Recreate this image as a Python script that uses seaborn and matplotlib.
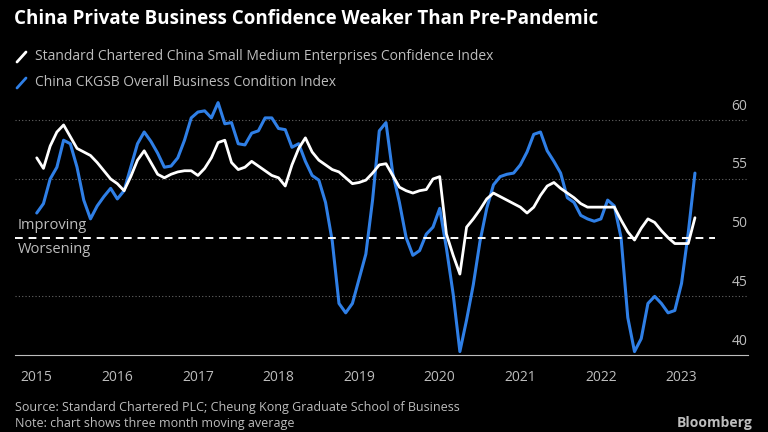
import numpy as np
import pandas as pd
import matplotlib
matplotlib.use("Agg")
import matplotlib.pyplot as plt
import matplotlib.transforms as mtransforms
from matplotlib.lines import Line2D
import seaborn as sns

# Standard Chartered SME Confidence Index, monthly Jan 2015 - Mar 2023
sc_index = [
    56.8, 55.9, 57.8, 59.0, 59.6, 58.6, 57.6, 57.3, 57.0, 56.4, 55.7, 55.0,
    54.6, 54.0, 55.2, 56.6, 57.4, 56.4, 55.4, 55.1, 55.4, 55.6, 55.7, 55.7,
    55.3, 55.9, 56.8, 58.1, 58.3, 56.4, 55.8, 56.0, 56.5, 56.1, 55.7, 55.3,
    55.1, 54.4, 56.2, 57.6, 58.5, 57.3, 56.6, 56.2, 55.8, 55.6, 55.1, 54.6,
    54.7, 54.9, 55.5, 56.2, 56.3, 55.3, 54.3, 54.0, 53.8, 54.0, 54.1, 55.0,
    55.2, 50.3, 48.5, 46.9, 50.9, 51.6, 52.4, 53.3, 53.8, 53.5, 53.2, 52.9,
    52.6, 52.1, 52.6, 53.6, 54.4, 54.7, 54.2, 53.8, 53.4, 52.9, 52.6, 52.6,
    52.6, 52.6, 52.6, 51.5, 50.5, 49.8, 50.8, 51.6, 51.3, 50.6, 50.0, 49.5,
    49.5, 49.5, 51.7,
]
# CKGSB Business Condition Index
ckgsb_index = [
    52.1, 52.9, 55.0, 56.0, 58.3, 58.0, 56.0, 53.2, 51.6, 52.7, 53.5, 54.2,
    53.3, 54.0, 56.0, 58.0, 59.0, 58.2, 57.2, 56.0, 56.1, 56.8, 58.3, 60.2,
    60.7, 60.8, 60.2, 61.5, 59.7, 59.8, 58.0, 57.9, 58.9, 59.1, 60.2, 60.2,
    59.3, 59.2, 57.7, 58.0, 56.5, 55.3, 54.9, 53.0, 49.7, 44.4, 43.6, 44.4,
    46.5, 48.6, 53.2, 59.1, 59.8, 55.5, 53.0, 50.0, 48.5, 48.9, 50.3, 50.9,
    52.5, 49.1, 45.2, 40.3, 43.0, 46.0, 49.7, 52.5, 54.5, 55.2, 55.4, 55.5,
    56.2, 57.3, 58.8, 59.0, 57.4, 56.5, 55.5, 53.4, 53.0, 51.9, 51.6, 51.4,
    51.6, 53.2, 52.7, 50.0, 43.2, 40.3, 41.4, 44.4, 45.0, 44.4, 43.6, 43.8,
    46.1, 50.4, 55.5,
]
years = list(range(2015, 2024))
y_ticks = [40, 45, 50, 55, 60]

t = 2015 + np.arange(len(sc_index)) / 12
df = pd.DataFrame({"t": t, "sc": sc_index, "ckgsb": ckgsb_index})

sns.set_style("dark")
plt.rcParams['font.family'] = ['Open Sans', 'DejaVu Sans']
grey = "#bdbdbd"
blue = "#2f7fe6"

fig = plt.figure(figsize=(7.68, 4.32), dpi=100, facecolor="black")
ax = fig.add_axes([0.0195, 0.178, 0.955, 0.598], facecolor="black")

sns.lineplot(data=df, x="t", y="ckgsb", ax=ax, color=blue, linewidth=2.2)
sns.lineplot(data=df, x="t", y="sc", ax=ax, color="white", linewidth=2)
ax.axhline(50, color="white", linestyle=(0, (4, 3)), linewidth=1.4, xmax=0.955)

ax.set_xlim(2014.73, 2023.83)
ax.set_ylim(40, 62)
ax.set_xlabel("")
ax.set_ylabel("")
ax.set_xticks(years)
ax.set_xticklabels([str(y) for y in years], color=grey, fontsize=10)
ax.set_yticks(y_ticks)
ax.set_yticklabels([str(v) for v in y_ticks], color=grey, fontsize=10)
ax.yaxis.tick_right()
ax.tick_params(axis="y", length=0, pad=-8)
ax.tick_params(axis="x", length=5, color=grey, direction="out", pad=6)
off = mtransforms.ScaledTranslation(0.1, 0.16, fig.dpi_scale_trans)
for lab in ax.get_yticklabels():
    lab.set_transform(lab.get_transform() + off)
    lab.set_horizontalalignment("right")

for v in [45, 55, 60]:
    ax.axhline(v, color="#666666", linestyle=(0, (1, 2)), linewidth=0.8, zorder=0)
ax.grid(False)
for s in ["top", "left", "right"]:
    ax.spines[s].set_visible(False)
ax.spines["bottom"].set_color(grey)

ax.text(2014.76, 50.4, "Improving", color=grey, fontsize=10.5, va="bottom")
ax.text(2014.76, 49.6, "Worsening", color=grey, fontsize=10.5, va="top")

fig.text(0.018, 0.955, "China Private Business Confidence Weaker Than Pre-Pandemic",
         color="white", fontsize=13.5, fontweight="bold", va="center")
fig.add_artist(Line2D([17/768, 26/768], [1-62/432, 1-52/432], color="white", linewidth=2))
fig.add_artist(Line2D([17/768, 26/768], [1-88/432, 1-78/432], color=blue, linewidth=2))
fig.text(0.045, 1-57/432, "Standard Chartered China Small Medium Enterprises Confidence Index",
         color=grey, fontsize=10, va="center")
fig.text(0.045, 1-83/432, "China CKGSB Overall Business Condition Index",
         color=grey, fontsize=10, va="center")
fig.text(0.02, 1-408/432, "Source: Standard Chartered PLC; Cheung Kong Graduate School of Business",
         color=grey, fontsize=9, va="center")
fig.text(0.02, 1-423/432, "Note: chart shows three month moving average",
         color=grey, fontsize=9, va="center")
fig.text(0.98, 1-423/432, "Bloomberg", color=grey, fontsize=10, fontweight="bold",
         ha="right", va="center")

fig.savefig("out.png", dpi=100, facecolor="black")
